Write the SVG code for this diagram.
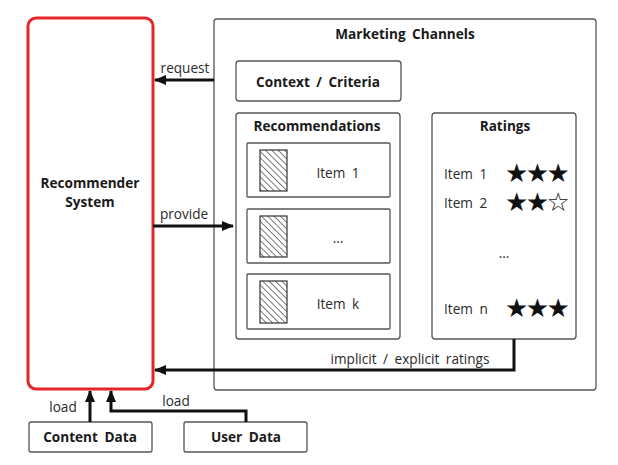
<svg xmlns="http://www.w3.org/2000/svg" width="618" height="465" viewBox="0 0 618 465">
<style>
text{font-family:"Open Sans","Noto Sans","DejaVu Sans",sans-serif;fill:#2a2a2a;font-size:13.6px;word-spacing:3px}
.b{font-weight:bold;text-anchor:middle;fill:#1a1a1a}
.box{fill:#fff;stroke:#555;stroke-width:1.3}
.con{fill:none;stroke:#111;stroke-width:3}
.star{font-family:"DejaVu Sans",sans-serif;font-size:26px;fill:#111;letter-spacing:-2.5px}
</style>
<defs>
<marker id="ah" markerWidth="12" markerHeight="10" refX="11" refY="5" orient="auto" markerUnits="userSpaceOnUse">
<path d="M0,0 L12,5 L0,10 Z" fill="#111"/>
</marker>
<pattern id="hatch" width="4.5" height="4.5" patternUnits="userSpaceOnUse" patternTransform="rotate(-45)">
<line x1="0" y1="0" x2="0" y2="4.5" stroke="#333" stroke-width="1.3"/>
</pattern>
</defs>
<rect width="618" height="465" fill="#fff"/>
<g id="recommender">
<rect x="28" y="18" width="125" height="371" rx="8" fill="#fff" stroke="#e3262a" stroke-width="3"/>
<text class="b" x="90" y="188">Recommender</text>
<text class="b" x="90" y="207">System</text>
</g>
<g id="marketing">
<rect class="box" x="214" y="19" width="382" height="371" rx="3"/>
<text class="b" x="405" y="39">Marketing Channels</text>
</g>
<g id="context">
<rect class="box" x="236" y="61" width="165" height="40" rx="3"/>
<text class="b" x="318" y="87">Context / Criteria</text>
</g>
<g id="recommendations">
<rect class="box" x="236" y="113" width="164" height="226" rx="3"/>
<text class="b" x="317" y="131">Recommendations</text>
</g>
<g id="item1">
<rect class="box" x="247" y="143" width="143" height="54" rx="1"/>
<rect x="260" y="150" width="27" height="41" fill="url(#hatch)" stroke="#333" stroke-width="1.2"/>
<text x="338" y="178" text-anchor="middle">Item 1</text>
</g>
<g id="item2">
<rect class="box" x="247" y="209" width="143" height="54" rx="1"/>
<rect x="260" y="216" width="27" height="41" fill="url(#hatch)" stroke="#333" stroke-width="1.2"/>
<text x="338" y="243" text-anchor="middle">...</text>
</g>
<g id="itemk">
<rect class="box" x="247" y="274" width="143" height="55" rx="1"/>
<rect x="260" y="281" width="27" height="42" fill="url(#hatch)" stroke="#333" stroke-width="1.2"/>
<text x="338" y="309" text-anchor="middle">Item k</text>
</g>
<g id="ratings">
<rect class="box" x="432" y="113" width="144" height="226" rx="3"/>
<text class="b" x="505" y="131">Ratings</text>
<text x="444" y="179">Item 1</text>
<text class="star" x="505" y="182">★★★</text>
<text x="444" y="208">Item 2</text>
<text class="star" x="505" y="211">★★☆</text>
<text x="504" y="258" text-anchor="middle">...</text>
<text x="444" y="314">Item n</text>
<text class="star" x="505" y="317">★★★</text>
</g>
<g id="content-data">
<rect class="box" x="29" y="422" width="123" height="30" rx="2"/>
<text class="b" x="90" y="442">Content Data</text>
</g>
<g id="user-data">
<rect class="box" x="184" y="422" width="123" height="30" rx="2"/>
<text class="b" x="246" y="442">User Data</text>
</g>
<g id="connectors">
<path class="con" d="M214,80 H155" marker-end="url(#ah)"/>
<text x="185" y="73" text-anchor="middle">request</text>
<path class="con" d="M153,226 H233" marker-end="url(#ah)"/>
<text x="184" y="219" text-anchor="middle">provide</text>
<path class="con" d="M514,339 V370 H155" marker-end="url(#ah)"/>
<text x="410" y="364" text-anchor="middle">implicit / explicit ratings</text>
<path class="con" d="M90,422 V391" marker-end="url(#ah)"/>
<text x="63" y="412" text-anchor="middle">load</text>
<path class="con" d="M246,422 V411 H111 V391" marker-end="url(#ah)"/>
<text x="176" y="406" text-anchor="middle">load</text>
</g>
</svg>
